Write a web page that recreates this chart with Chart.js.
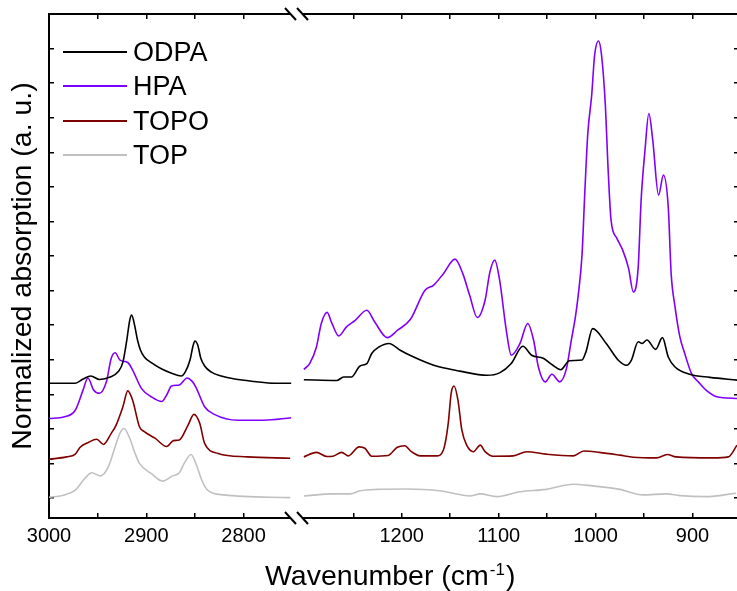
<!DOCTYPE html>
<html>
<head>
<meta charset="utf-8">
<script src="https://cdn.jsdelivr.net/npm/chart.js@4"></script>
<style>
  html, body { margin: 0; padding: 0; background: #fff; overflow: hidden; }
  #wrap { position: relative; width: 737px; height: 591px; overflow: hidden; font-family: "Liberation Sans", Arial, sans-serif; color: #000; }
  #leftChart { position: absolute; left: 0; top: 0; }
  #rightChart { position: absolute; left: 299px; top: 0; }
  #breaks { position: absolute; left: 0; top: 0; pointer-events: none; }
  .legend-row { position: absolute; left: 63px; height: 34px; display: flex; align-items: center; }
  .legend-line { display: inline-block; width: 64px; height: 2px; margin-right: 6px; }
  .legend-text { font-size: 27px; line-height: 34px; }
  #xTitle { position: absolute; left: 265px; top: 561px; font-size: 28.5px; line-height: 1; white-space: nowrap; }
  #xTitle .sup { font-size: 17px; position: relative; top: -10px; margin-left: 1px; margin-right: 1px; }
</style>
</head>
<body>
<div id="wrap">
  <canvas id="leftChart" width="297" height="591"></canvas>
  <canvas id="rightChart" width="450" height="591"></canvas>
  <svg id="breaks" width="737" height="591">
    <rect x="290.5" y="11" width="12" height="7" fill="#fff"/>
    <rect x="290.5" y="515" width="12" height="7" fill="#fff"/>
    <g stroke="#000" stroke-width="2">
      <line x1="285" y1="8" x2="296" y2="20"/>
      <line x1="297" y1="8" x2="308" y2="20"/>
      <line x1="285" y1="512" x2="296" y2="524"/>
      <line x1="297" y1="512" x2="308" y2="524"/>
    </g>
  </svg>
  <div id="legend"></div>
  <div id="xTitle">Wavenumber (cm<span class="sup">-1</span>)</div>
</div>
<script>
// series
const seriesNames = ['ODPA', 'HPA', 'TOPO', 'TOP'];
const seriesColors = ['#000000', '#8000ff', '#800000', '#c0c0c0'];

// axis ranges and tick labels
const leftRange = [2745, 3000];
const rightRange = [852, 1306];
const yRange = [-0.578, 14];
const leftTickLabels = [3000, 2900, 2800];
const rightTickLabels = [1200, 1100, 1000, 900];

// C-H stretch region (left panel)
const odpaLeftWn = [3000, 2987, 2973, 2965, 2957, 2948, 2937, 2929, 2924, 2920, 2917, 2915, 2912, 2909, 2906, 2902, 2894, 2884, 2874, 2864, 2860, 2855, 2852, 2850, 2847, 2844, 2840, 2833, 2823, 2809, 2789, 2768, 2751];
const odpaLeftAbs = [3.32, 3.32, 3.32, 3.44, 3.53, 3.43, 3.50, 3.65, 3.93, 4.57, 5.14, 5.29, 5.00, 4.57, 4.28, 4.08, 3.90, 3.73, 3.61, 3.53, 3.64, 3.99, 4.39, 4.54, 4.42, 4.05, 3.82, 3.64, 3.53, 3.44, 3.37, 3.32, 3.32];

const hpaLeftWn = [3000, 2984, 2973, 2965, 2960, 2954, 2948, 2941, 2936, 2932, 2927, 2919, 2914, 2905, 2895, 2884, 2879, 2874, 2866, 2858, 2853, 2849, 2840, 2830, 2806, 2779, 2751];
const hpaLeftAbs = [2.30, 2.35, 2.54, 3.12, 3.47, 3.12, 3.03, 3.36, 4.04, 4.20, 3.99, 3.92, 3.70, 3.17, 2.93, 2.79, 2.98, 3.24, 3.27, 3.47, 3.38, 3.21, 2.64, 2.42, 2.25, 2.25, 2.32];

const topoLeftWn = [3000, 2982, 2973, 2968, 2960, 2951, 2944, 2936, 2931, 2924, 2919, 2914, 2907, 2902, 2891, 2879, 2872, 2866, 2857, 2851, 2845, 2840, 2826, 2796, 2752];
const topoLeftAbs = [1.12, 1.19, 1.27, 1.47, 1.60, 1.70, 1.55, 1.87, 2.11, 2.64, 3.10, 2.83, 2.06, 1.92, 1.73, 1.49, 1.66, 1.68, 2.11, 2.42, 2.16, 1.58, 1.29, 1.19, 1.15];

const topLeftWn = [3000, 2984, 2973, 2963, 2956, 2947, 2939, 2932, 2927, 2923, 2917, 2912, 2907, 2895, 2883, 2873, 2866, 2861, 2854, 2849, 2843, 2837, 2820, 2752];
const topLeftAbs = [0.02, 0.09, 0.23, 0.57, 0.73, 0.64, 0.90, 1.48, 1.88, 2.01, 1.73, 1.33, 1.00, 0.71, 0.49, 0.64, 0.73, 1.00, 1.26, 1.00, 0.52, 0.23, 0.09, 0.01];

// P-O region (right panel)
const odpaRightWn = [1301, 1267, 1260, 1252, 1243, 1236, 1231, 1224, 1213, 1202, 1191, 1167, 1140, 1112, 1099, 1087, 1075, 1066, 1054, 1044, 1036, 1027, 1014, 1010, 1003, 989, 976, 968, 963, 956, 952, 947, 938, 931, 925, 918, 903, 882, 854];
const odpaRightAbs = [3.42, 3.40, 3.50, 3.50, 3.82, 3.89, 4.18, 4.36, 4.47, 4.28, 4.12, 3.84, 3.67, 3.55, 3.62, 3.89, 4.39, 4.13, 4.04, 3.84, 3.71, 3.97, 3.99, 4.22, 4.90, 4.47, 3.97, 3.84, 3.99, 4.52, 4.47, 4.57, 4.30, 4.64, 4.08, 3.79, 3.58, 3.49, 3.41];

const hpaRightWn = [1301, 1295, 1288, 1283, 1277, 1272, 1265, 1257, 1248, 1236, 1228, 1215, 1204, 1191, 1176, 1167, 1157, 1145, 1137, 1130, 1122, 1114, 1109, 1104, 1099, 1092, 1087, 1078, 1070, 1064, 1059, 1052, 1045, 1037, 1030, 1025, 1021, 1018, 1014, 1011, 1008, 1004, 1001, 997, 994, 990, 987, 984, 978, 972, 966, 961, 956, 953, 949, 945, 941, 935, 930, 925, 922, 918, 913, 908, 901, 894, 886, 875, 854];
const hpaRightAbs = [3.72, 3.89, 4.37, 5.05, 5.37, 5.05, 4.69, 4.95, 5.14, 5.43, 5.10, 4.64, 4.86, 5.17, 6.01, 6.16, 6.49, 6.91, 6.49, 5.87, 5.22, 5.72, 6.54, 6.88, 6.30, 4.83, 4.13, 4.47, 5.05, 4.57, 3.79, 3.36, 3.58, 3.36, 3.75, 4.57, 5.20, 5.84, 7.02, 8.90, 10.55, 11.65, 12.80, 13.22, 12.85, 11.41, 9.48, 8.03, 7.51, 7.17, 6.65, 5.96, 6.68, 8.61, 10.06, 11.12, 10.35, 8.76, 9.34, 8.42, 6.49, 5.53, 4.66, 4.18, 3.60, 3.36, 3.12, 2.93, 2.88];

const topoRightWn = [1301, 1288, 1277, 1271, 1262, 1255, 1244, 1238, 1231, 1214, 1205, 1197, 1190, 1181, 1164, 1157, 1152, 1149, 1146, 1142, 1138, 1133, 1126, 1119, 1114, 1106, 1085, 1071, 1051, 1023, 1012, 996, 975, 961, 937, 926, 917, 879, 863, 854];
const topoRightAbs = [1.19, 1.32, 1.20, 1.21, 1.32, 1.22, 1.48, 1.44, 1.21, 1.23, 1.46, 1.51, 1.34, 1.22, 1.22, 1.39, 2.16, 3.03, 3.24, 2.83, 1.97, 1.53, 1.34, 1.53, 1.34, 1.21, 1.22, 1.34, 1.27, 1.22, 1.36, 1.32, 1.24, 1.18, 1.16, 1.26, 1.19, 1.16, 1.19, 1.53];

const topRightWn = [1301, 1271, 1253, 1243, 1226, 1195, 1161, 1147, 1130, 1119, 1102, 1078, 1051, 1023, 1003, 975, 951, 927, 913, 886, 855];
const topRightAbs = [0.06, 0.12, 0.12, 0.21, 0.25, 0.26, 0.21, 0.14, 0.06, 0.12, 0.04, 0.18, 0.25, 0.40, 0.35, 0.25, 0.09, 0.12, 0.07, 0.04, 0.14];

const FONT = '"Liberation Sans", Arial, sans-serif';
Chart.defaults.font.family = FONT;
Chart.defaults.color = '#000';

document.addEventListener('DOMContentLoaded', function() {
    buildLegend();
    setupLeftChart();
    setupRightChart();
});

function toPoints(wn, abs) {
    return wn.map((w, i) => ({ x: w, y: abs[i] }));
}

function makeDatasets(panel) {
    return seriesNames.map((name, i) => ({
        label: name,
        data: toPoints(panel[i][0], panel[i][1]),
        borderColor: seriesColors[i],
        borderWidth: 1.6,
        pointRadius: 0,
        fill: false,
        cubicInterpolationMode: 'monotone'
    }));
}

function tickGrid() {
    return { drawOnChartArea: false, drawTicks: true, tickLength: -5, color: '#000', lineWidth: 1.5 };
}

function axisBorder() {
    return { display: true, color: '#000', width: 2 };
}

function xAxis(range, labels, keep, position, height) {
    return {
        type: 'linear',
        position: position,
        min: range[0],
        max: range[1],
        reverse: true,
        grid: tickGrid(),
        border: axisBorder(),
        ticks: {
            display: position === 'bottom',
            stepSize: 50,
            autoSkip: false,
            maxRotation: 0,
            includeBounds: false,
            padding: 11,
            color: '#000',
            font: { size: 20 },
            callback: value => labels.includes(value) ? String(value) : ''
        },
        afterBuildTicks: scale => { scale.ticks = scale.ticks.filter(t => keep(t.value)); },
        afterFit: scale => { scale.height = height; }
    };
}

function yAxis(position, width, withTitle) {
    return {
        type: 'linear',
        position: position,
        min: yRange[0],
        max: yRange[1],
        grid: tickGrid(),
        border: axisBorder(),
        ticks: { display: false, stepSize: 1, includeBounds: false },
        title: {
            display: withTitle,
            text: 'Normalized absorption (a. u.)',
            color: '#000',
            font: { size: 28.5 },
            padding: { top: 6, bottom: 0 }
        },
        afterFit: scale => { scale.width = width; }
    };
}

function baseOptions(scales) {
    return {
        responsive: false,
        animation: false,
        layout: { padding: 0 },
        plugins: { legend: { display: false }, tooltip: { enabled: false } },
        scales: scales
    };
}

function setupLeftChart() {
    const ctx = document.getElementById('leftChart');
    const keep = v => v > 2760;
    new Chart(ctx, {
        type: 'line',
        data: {
            datasets: makeDatasets([
                [odpaLeftWn, odpaLeftAbs],
                [hpaLeftWn, hpaLeftAbs],
                [topoLeftWn, topoLeftAbs],
                [topLeftWn, topLeftAbs]
            ])
        },
        options: baseOptions({
            x: xAxis(leftRange, leftTickLabels, keep, 'bottom', 73),
            xTop: xAxis(leftRange, leftTickLabels, keep, 'top', 14),
            y: yAxis('left', 49, true)
        })
    });
}

function setupRightChart() {
    const ctx = document.getElementById('rightChart');
    const keep = v => v < 1290;
    new Chart(ctx, {
        type: 'line',
        data: {
            datasets: makeDatasets([
                [odpaRightWn, odpaRightAbs],
                [hpaRightWn, hpaRightAbs],
                [topoRightWn, topoRightAbs],
                [topRightWn, topRightAbs]
            ])
        },
        options: baseOptions({
            x: xAxis(rightRange, rightTickLabels, keep, 'bottom', 73),
            xTop: xAxis(rightRange, rightTickLabels, keep, 'top', 14),
            y: yAxis('right', 10, false)
        })
    });
}

function buildLegend() {
    const box = document.getElementById('legend');
    seriesNames.forEach((name, i) => {
        const row = document.createElement('div');
        row.className = 'legend-row';
        row.style.top = (35 + i * 34.4) + 'px';
        row.innerHTML = `<span class="legend-line" style="background:${seriesColors[i]}"></span>` +
            `<span class="legend-text">${name}</span>`;
        box.appendChild(row);
    });
}
</script>
</body>
</html>
